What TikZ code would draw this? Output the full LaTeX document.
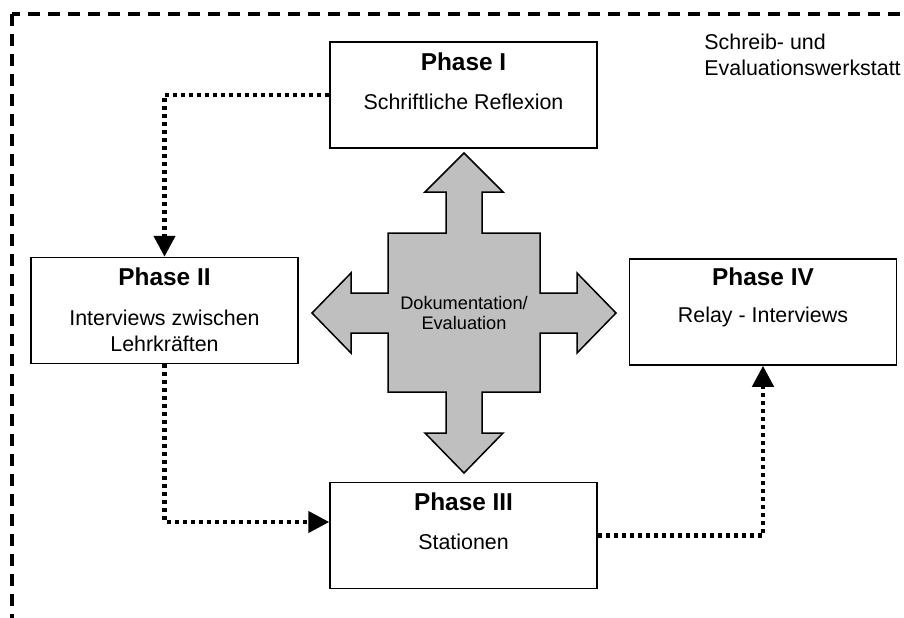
\documentclass[tikz,border=0pt]{standalone}
\usepackage{fontspec}
\setmainfont{Liberation Sans}
\usetikzlibrary{arrows.meta,calc}
\tikzset{
  phase/.style={draw,line width=0.75pt,minimum width=133.5pt,minimum height=53pt,inner sep=0pt},
  ptitle/.style={font=\fontsize{12.2}{14}\selectfont\bfseries,inner sep=0pt},
  ptext/.style={font=\fontsize{10.7}{13}\selectfont,align=center,inner sep=0pt},
  flow/.style={line width=2.2pt,dash pattern=on 2pt off 2pt,-{Triangle[length=10.5pt,width=10.5pt]}}
}
\begin{document}
\begin{tikzpicture}[x=0.5pt,y=-0.5pt]
		\useasboundingbox (0,0) rectangle (904,617);
		\clip (0,0) rectangle (904,617);
		% frame
		\draw[line width=1.7pt,dash pattern=on 6pt off 4pt] (12,14) rectangle (930,650);
		\node[ptext,anchor=west,align=left] (werk) at (704,55) {Schreib- und\\Evaluationswerkstatt};
		% centre cross
		\draw[line width=0.75pt,fill=black!25] (464,153) -- (503,192) -- (482,192) -- (482,233) -- (540,233)
			-- (540,293) -- (577,293) -- (577,273) -- (616,313) -- (577,353) -- (577,333) -- (540,333)
			-- (540,392) -- (482,392) -- (482,433) -- (503,433) -- (464,473) -- (425,433) -- (446,433)
			-- (446,392) -- (388,392) -- (388,333) -- (351,333) -- (351,353) -- (312,313) -- (351,273)
			-- (351,293) -- (388,293) -- (388,233) -- (446,233) -- (446,192) -- (425,192) -- cycle;
		\node[font=\fontsize{9.1}{10}\selectfont,align=center,inner sep=0pt] (doku) at (464,313) {Dokumentation/\\Evaluation};
		% phases
		\node[phase] (p1) at (463.5,95) {};
		\node[ptitle] (p1t) at ($(p1.north)+(0,21)$) {Phase I};
		\node[ptext] (p1b) at ($(p1.north)+(0,61)$) {Schriftliche Reflexion};
		\node[phase] (p2) at (164.5,310.5) {};
		\node[ptitle] (p2t) at ($(p2.north)+(0,20)$) {Phase II};
		\node[ptext] (p2b) at ($(p2.north)+(0,74)$) {Interviews zwischen\\Lehrkräften};
		\node[phase] (p3) at (463.5,535.5) {};
		\node[ptitle] (p3t) at ($(p3.north)+(0,20)$) {Phase III};
		\node[ptext] (p3b) at ($(p3.north)+(0,60)$) {Stationen};
		\node[phase] (p4) at (763,312) {};
		\node[ptitle] (p4t) at ($(p4.north)+(0,19)$) {Phase IV};
		\node[ptext] (p4b) at ($(p4.north)+(0,59)$) {Relay - Interviews};
		% dotted flow
		\draw[flow] (p1.west) -| (p2.north);
		\draw[flow] (p2.south) |- ([yshift=6.75pt]p3.west);
		\draw[flow] (p3.east) -| (p4.south);
\end{tikzpicture}
\end{document}
